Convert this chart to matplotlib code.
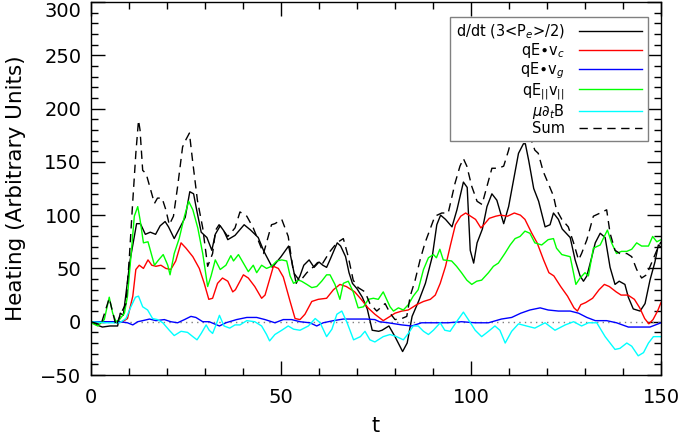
import numpy as np
import matplotlib
matplotlib.use('Agg')
import matplotlib.pyplot as plt
from matplotlib.ticker import MultipleLocator

# d/dt (3<Pe>/2)
t_heat = [0, 1.5, 3, 5, 7, 7.7, 8.5, 10.3, 12, 13, 14.3, 15.6, 17, 18.2, 19.5, 20.4, 21.9, 23.5, 24.8, 26,
          27, 27.8, 29, 30.5, 31.8, 32.7, 34, 35, 36, 37.9, 40.3, 42, 44, 45.5, 47.7, 50, 52, 54, 55, 56,
          57.4, 58.7, 60, 61, 62, 63, 64.8, 65.7, 67, 67.9, 68.8, 70, 71.4, 72.7, 74, 75.7, 76.6, 78.4, 80, 82,
          83.2, 84.5, 86.3, 88, 89.8, 91, 92, 93.3, 95, 96.3, 98, 99, 99.8, 100.7, 101.6, 103, 104.2, 105.5, 106.8, 108.6,
          109.9, 111.2, 112.5, 113.8, 114.3, 115.2, 116.5, 117.8, 119.5, 120.8, 121.7, 123, 124, 126.1, 127.4, 128.7, 129.6, 130.5, 131.8, 132.7,
          134, 135.3, 136.6, 137.9, 139, 140.5, 141.4, 142.7, 144.5, 145.8, 147.1, 148.4, 149.3, 150]
heat = [0, -3, -5, -4, -4, 8, 6, 58, 92, 92, 82, 84, 82, 90, 94, 89, 78, 89, 98, 122,
        120, 105, 84, 79, 67, 82, 90, 85, 77, 81, 91, 86, 79, 66, 51, 61, 71, 36, 43, 53,
        58, 51, 56, 53, 51, 59, 74, 71, 61, 46, 36, 31, 23, 12, -8, -9, -8, -4, -14, -28,
        -20, 5, 20, 36, 61, 91, 100, 96, 89, 105, 131, 126, 67, 55, 74, 87, 108, 120, 114, 92,
        108, 133, 158, 167, 167, 151, 125, 113, 89, 91, 102, 96, 87, 79, 58, 43, 38, 43, 61, 74,
        83, 79, 51, 35, 38, 35, 23, 12, 10, 17, 39, 56, 72, 70]

# qE.vc
t_c = [0, 8.3, 9.6, 11, 11.8, 12.7, 13.8, 15, 16, 17.1, 18.4, 19.7, 21, 22.3, 23.7, 25, 26.8, 28.5, 29.8, 31,
       32, 33.3, 34.6, 36, 37.3, 38, 40.1, 41.4, 43.1, 44.9, 45.8, 48, 49.3, 50.6, 52.4, 53.7, 55, 56.3, 58.1, 59.8,
       62, 63.8, 65.5, 67.2, 69.4, 71.1, 72.9, 74.7, 76.9, 78.7, 80, 81.8, 83.5, 85.7, 87.5, 89.3, 90.6, 91.9, 93.3, 94.6,
       95.9, 97.3, 98.6, 99.9, 101.2, 102.6, 103.4, 104.8, 106.5, 107.8, 109.6, 111.4, 113, 114.2, 116, 117.4, 119.1, 120.5, 121.8, 123.6,
       125.4, 127.1, 128, 128.9, 130.2, 132, 133.7, 135.1, 136.4, 138.2, 139.5, 141.3, 143, 144.4, 145.7, 146.8, 147.9, 149.1, 150]
q_c = [0, 0, 3, 24, 49, 53, 50, 58, 53, 52, 53, 50, 49, 57, 74, 69, 61, 50, 36, 21,
       22, 36, 41, 38, 28, 30, 44, 41, 33, 22, 25, 52, 50, 42, 19, 3, 2, 7, 19, 21,
       22, 30, 35, 33, 28, 21, 13, 7, 1, 5, 8, 10, 11, 16, 19, 21, 25, 36, 52, 72,
       91, 99, 102, 99, 96, 88, 91, 97, 99, 100, 99, 102, 100, 96, 83, 74, 58, 46, 43, 33,
       24, 13, 10, 16, 18, 22, 30, 35, 33, 28, 25, 25, 21, 13, 3, -2, 2, 10, 18]

# qE.vg
t_g = [0, 7.5, 9.6, 11, 12.3, 13.6, 15.4, 17.1, 19.3, 21, 22.8, 24.6, 26.3, 27.6, 29.4, 31.1, 33.8, 35.5, 38.3, 41,
       43.6, 45.8, 48.4, 50.6, 52.8, 55, 57.6, 59.4, 61.1, 63.8, 66.4, 69.4, 72.5, 74.7, 75.9, 78.2, 81.8, 84.4, 87, 90.5,
       94, 97.5, 101.1, 104.6, 108, 110.7, 113.1, 115.5, 118.2, 120.3, 123, 126.1, 128.3, 130.5, 132.7, 135.7, 138.3, 141.4, 144.5, 147.1,
       150]
q_g = [0, 0, -1, -3, 0, 1, 2.5, 1, 2, 0, -1, 2, 5, 4, 0, 0, -4, -1, 2, 4,
       4, 2, -1, 2, 2, 0, -1, -4, -1, 1, 2.5, 2.5, 2.5, 2, 0, -1, -3, -4, -1, -1,
       -1, 0, -1, -1, 2.5, 4, 8, 11, 13, 11, 10, 10, 8, 4, 1, 1, -1, -5, -5, -5,
       -1]

# qE|| v||
t_par = [0, 1.8, 3.5, 4.8, 5.7, 6.6, 7.5, 8.8, 9.6, 10.5, 11.4, 12.3, 12.9, 13.8, 15, 16.7, 17.8, 19, 20.2, 20.8,
         21.9, 23.2, 24.6, 25.7, 26.8, 28.1, 29.4, 30.7, 31.6, 32.7, 34, 35.5, 36.8, 37.5, 38.8, 40.1, 41.4, 42.7, 43.6, 44.9,
         46.2, 47.5, 48.9, 50.2, 51.5, 52.4, 53.3, 54.6, 55.4, 56.8, 58.1, 59.4, 60.7, 62, 62.9, 64.2, 65.5, 66.4, 67.7, 69,
         70.3, 71.7, 73, 74.3, 75.6, 76.9, 77.8, 78.7, 79.6, 80.9, 82.2, 83.5, 84.8, 86.1, 87.5, 88.8, 90.1, 90.9, 91.8, 92.7,
         94.9, 96.2, 97.5, 98.9, 100.2, 101.5, 102.8, 104.6, 105.9, 107.2, 108.9, 110.3, 111.6, 112.9, 114.2, 115.5, 116.8, 118.6, 120.3, 121.7,
         122.5, 123.9, 126.1, 127.6, 128.7, 130, 130.9, 132.2, 134, 134.8, 135.9, 137, 138.3, 139.6, 141, 142.3, 143.6, 144.9, 146.7, 147.8,
         148.9, 150]
q_par = [-1, -4, 2, 23, 8, 0, 2, 8, 24, 61, 99, 108, 96, 74, 75, 53, 58, 63, 53, 44,
         64, 78, 99, 113, 105, 88, 64, 33, 43, 58, 49, 53, 62, 57, 63, 55, 47, 53, 46, 53,
         50, 52, 57, 58, 57, 43, 36, 39, 38, 35, 32, 33, 38, 44, 44, 35, 21, 36, 38, 28,
         13, 14, 21, 22, 21, 28, 21, 14, 10, 13, 11, 16, 24, 30, 49, 60, 63, 60, 68, 58,
         57, 52, 46, 39, 35, 38, 39, 46, 52, 55, 64, 72, 78, 80, 85, 83, 74, 72, 77, 78,
         69, 63, 61, 35, 41, 46, 43, 69, 72, 78, 86, 74, 64, 66, 66, 68, 74, 71, 71, 80,
         75, 77]

# mu d_t B
t_mu = [0, 3.9, 7.5, 9.2, 10.5, 11.7, 12.5, 13.6, 14.9, 16.2, 17.5, 18.9, 20.6, 21.9, 23.7, 25.4, 26.8, 27.9, 29, 30.3,
        31.1, 32, 32.9, 33.8, 35, 36.5, 37.9, 39.2, 41, 43.1, 44.9, 46.2, 47, 48.4, 50.2, 51.9, 53.3, 55, 57.2, 59,
        60.3, 62, 63.4, 64.7, 66, 67.4, 69.1, 70.9, 72.1, 73.4, 74.7, 76.9, 78.7, 80.4, 82.2, 83.5, 84.8, 86.1, 87.5, 88.8,
        90.1, 91.9, 93.1, 94.5, 96.2, 98, 99.3, 101.1, 102.8, 104.6, 106.3, 107.6, 109, 110.7, 112.5, 114.6, 116.8, 119.5, 122.1, 124.8,
        127, 129.1, 130.9, 133.1, 135.3, 137.9, 139.2, 141, 142.3, 144, 145.4, 146.7, 148, 150]
mu_dtb = [0, -1, -1, 3, 14, 23, 24, 14, 11, 3, 2, -1, -8, -13, -9, -10, -14, -17, -11, -3,
          -8, -11, -3, 6, -4, -6, -3, -3, 1, 0, -4, -12, -18, -12, -8, -4, -7, -8, -4, 3,
          -1, -14, -7, 7, 10, -1, -17, -14, -9, -17, -19, -14, -12, -14, -17, -11, -4, -4, -9, -12,
          -8, -1, -8, -9, 0, 9, 2, -8, -14, -9, -4, -8, -20, -9, -2, -4, -6, -1, -8, -3,
          0, -4, -1, -1, -14, -26, -25, -20, -23, -32, -29, -20, -14, -14]

# Sum
t_sum = [0, 2.6, 4.8, 6.6, 7.9, 9.2, 10.1, 10.9, 11.8, 12.5, 12.9, 13.6, 14.5, 16.7, 17.5, 18.7, 19.7, 20.6, 21.7, 22.8,
         24.1, 25, 25.9, 26.7, 28, 29.4, 30.7, 32, 32.8, 33.7, 36, 37.9, 39.2, 41, 42.7, 45.4, 47.5, 48.4, 50.2, 51.9,
         53.3, 55, 56.8, 58.7, 60, 61, 62.9, 64.7, 66.4, 67.7, 69, 70.3, 72.1, 73.4, 75.2, 77.4, 78.7, 80, 81.8, 83.1,
         84, 85.3, 86.6, 87.9, 90.5, 92.3, 94, 95.8, 97.1, 98, 98.9, 100.2, 101.6, 102.9, 104.2, 105.5, 107.2, 108.6, 109.9, 111.2,
         112.5, 113.6, 115.5, 116.8, 117.7, 119, 120.3, 121.7, 122.5, 123.9, 125.6, 127, 128.3, 129.1, 130.5, 132.2, 134, 135.7, 136.6, 137.9,
         139.2, 141, 142.3, 143.6, 144.9, 146.2, 147.5, 148.9, 150]
total = [0, -3, 22, -4, 8, 17, 61, 108, 158, 189, 180, 142, 139, 111, 116, 116, 105, 91, 99, 127,
         164, 171, 177, 152, 114, 88, 52, 64, 86, 91, 80, 88, 103, 99, 88, 64, 91, 92, 96, 80,
         46, 38, 46, 52, 57, 55, 66, 74, 78, 61, 39, 32, 28, 17, 10, 17, 8, 2, 3, 5,
         24, 39, 58, 74, 99, 102, 102, 130, 146, 153, 146, 127, 113, 110, 127, 144, 144, 146, 161, 180,
         186, 189, 174, 161, 158, 141, 130, 118, 105, 96, 89, 74, 58, 64, 77, 99, 102, 105, 83, 67,
         64, 64, 61, 49, 41, 44, 55, 67, 75]

labels = [r'd/dt (3<P$_e$>/2)', r'qE$\bullet$v$_c$', r'qE$\bullet$v$_g$',
          r'qE$_{||}$v$_{||}$', r'$\mu\partial_t$B', 'Sum']
yticks = [-50, 0, 50, 100, 150, 200, 250, 300]

plt.rcParams['font.family'] = 'DejaVu Sans'
plt.rcParams['mathtext.fontset'] = 'dejavusans'

fig = plt.figure(figsize=(6.79, 4.36), dpi=100)
ax = fig.add_axes([91 / 679, 1 - 375 / 436, 570 / 679, 373 / 436])

ax.plot([0, 150], [0, 0], color='gray', ls=(0, (1, 3)), lw=1.0)
ax.plot(t_heat, heat, color='black', lw=1.0, label=labels[0])
ax.plot(t_c, q_c, color='red', lw=1.0, label=labels[1])
ax.plot(t_g, q_g, color='blue', lw=1.0, label=labels[2])
ax.plot(t_par, q_par, color='lime', lw=1.0, label=labels[3])
ax.plot(t_mu, mu_dtb, color='cyan', lw=1.0, label=labels[4])
ax.plot(t_sum, total, color='black', lw=1.0, ls=(0, (6, 4)), label=labels[5])

ax.set_xlim(0, 150)
ax.set_ylim(-50, 300)
ax.set_xticks([0, 50, 100, 150])
ax.set_yticks(yticks)
ax.xaxis.set_minor_locator(MultipleLocator(10))
ax.yaxis.set_minor_locator(MultipleLocator(10))
ax.tick_params(which='both', direction='in', top=True, right=True, width=1.0)
ax.tick_params(which='major', length=10, labelsize=14)
ax.tick_params(which='minor', length=5)
ax.tick_params(axis='x', pad=9)
ax.tick_params(axis='y', pad=7)
for sp in ax.spines.values():
    sp.set_linewidth(1.0)

# top y label sits inside the figure, like the original
ax.yaxis.get_major_ticks()[len(yticks) - 1].label1.set_verticalalignment('top')

ax.set_xlabel('t', fontsize=15, labelpad=7)
ax.set_ylabel('Heating (Arbitrary Units)', fontsize=15.5, labelpad=10)

leg = ax.legend(loc='upper right', bbox_to_anchor=(0.977, 0.960), borderaxespad=0,
                markerfirst=False, fontsize=10.5, handlelength=4.3, labelspacing=0.0,
                fancybox=False, edgecolor='gray', framealpha=1, borderpad=0.4,
                handletextpad=1.0)
leg.get_frame().set_linewidth(1.0)

fig.savefig('out.png', dpi=100)
